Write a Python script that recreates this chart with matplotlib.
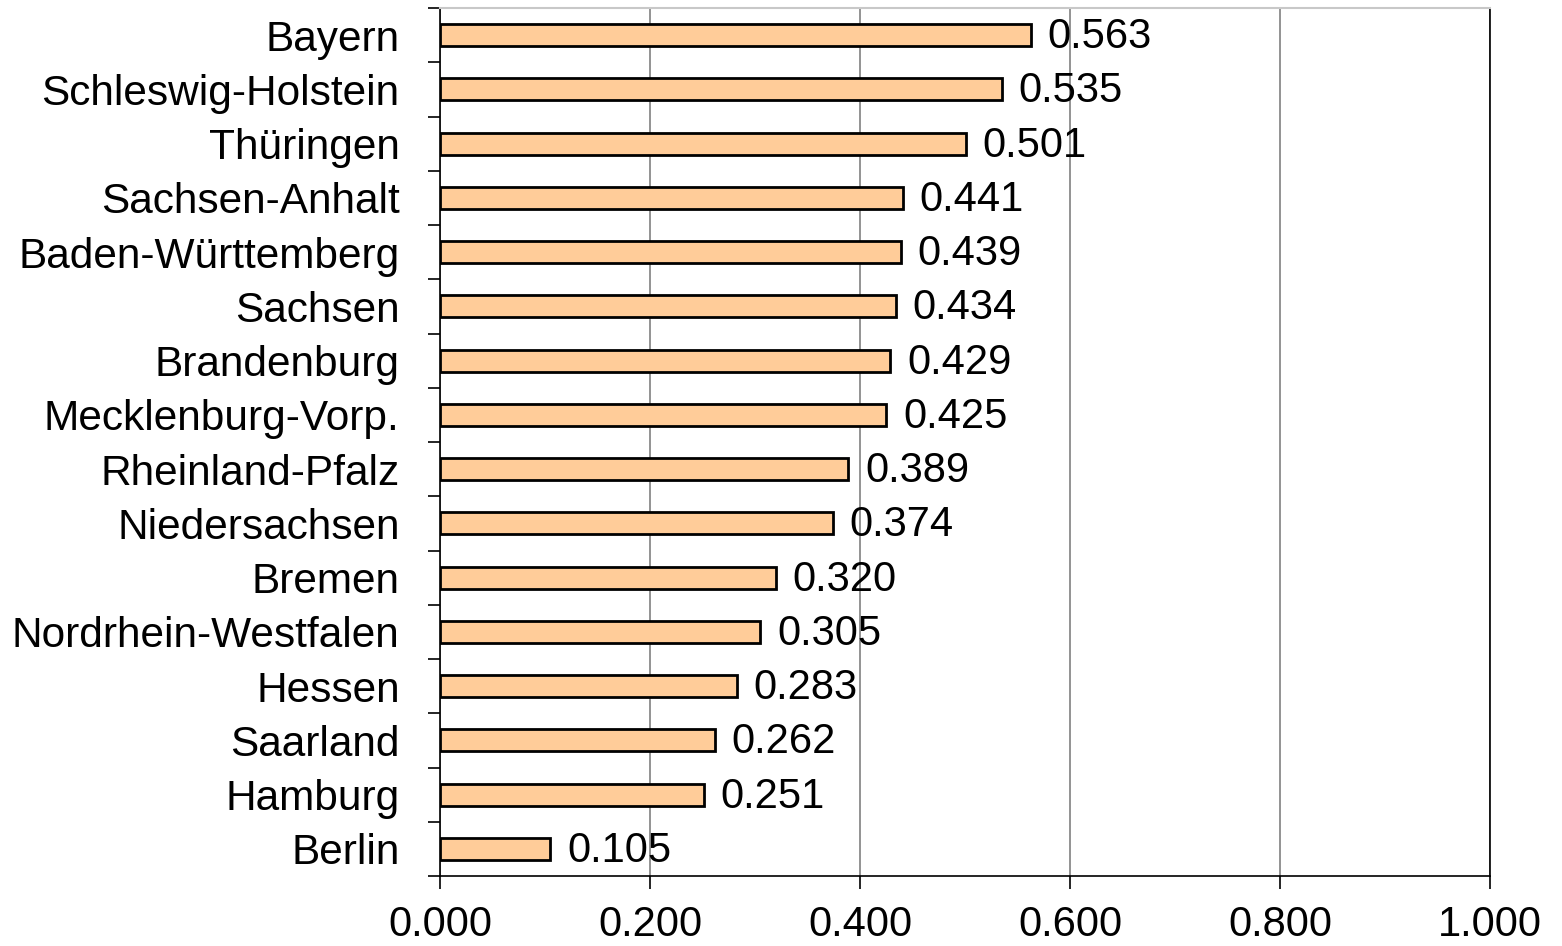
import matplotlib
matplotlib.use("Agg")
import matplotlib.pyplot as plt

states = ["Bayern", "Schleswig-Holstein", "Thüringen", "Sachsen-Anhalt",
          "Baden-Württemberg", "Sachsen", "Brandenburg", "Mecklenburg-Vorp.",
          "Rheinland-Pfalz", "Niedersachsen", "Bremen", "Nordrhein-Westfalen",
          "Hessen", "Saarland", "Hamburg", "Berlin"]
values = [0.563, 0.535, 0.501, 0.441, 0.439, 0.434, 0.429, 0.425,
          0.389, 0.374, 0.320, 0.305, 0.283, 0.262, 0.251, 0.105]
xticks = [0.0, 0.2, 0.4, 0.6, 0.8, 1.0]

plt.rcParams['font.family'] = ['Liberation Sans', 'DejaVu Sans']

fig = plt.figure(figsize=(15.62, 9.46), dpi=100)
ax = fig.add_axes([440/1562, 70/946, 1050/1562, 868/946])

n = len(states)
ypos = [n - 1 - i for i in range(n)]
ax.barh(ypos, values, height=0.41, color="#FFCC99", edgecolor="black",
        linewidth=2, zorder=3)

for y, v in zip(ypos, values):
    ax.annotate(f"{v:.3f}", xy=(v, y), xytext=(12, -1.5), textcoords="offset points",
                ha="left", va="center", fontsize=30, zorder=4)

ax.set_xlim(0, 1.0)
ax.set_ylim(-0.5, n - 0.5)
ax.set_xticks(xticks)
ax.set_xticklabels([f"{t:.3f}" for t in xticks], fontsize=30)
ax.set_yticks(ypos)
ax.set_yticklabels(states, fontsize=30.5)

# category boundary ticks on the y axis
ax.set_yticks([i - 0.5 for i in range(n + 1)], minor=True)
ax.tick_params(axis="y", which="major", length=0, pad=29)
ax.tick_params(axis="y", which="minor", length=9, width=1.2, color="black")
ax.tick_params(axis="x", which="major", length=9, width=1.2, pad=12)

ax.xaxis.grid(True, color="#808080", linewidth=1.2, zorder=0)
ax.set_axisbelow(True)

for side in ["left", "bottom"]:
    ax.spines[side].set_color("black")
    ax.spines[side].set_linewidth(1.2)
ax.spines["top"].set_color("#C8C8C8")
ax.spines["top"].set_linewidth(1.5)
ax.spines["right"].set_color("black")
ax.spines["right"].set_linewidth(1.2)

fig.savefig("out.png", dpi=100, facecolor="white")
